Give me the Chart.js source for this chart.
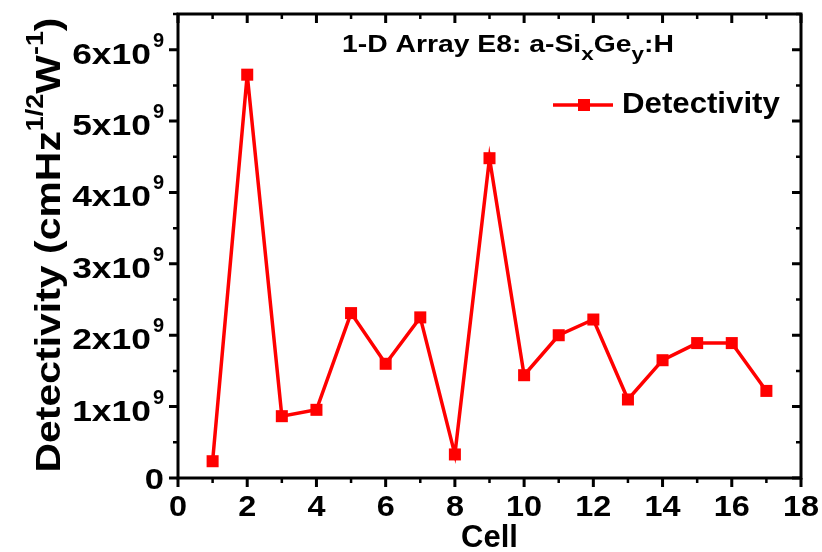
<!DOCTYPE html>
<html>
<head>
<meta charset="utf-8">
<script src="https://cdn.jsdelivr.net/npm/chart.js@4.4.0/dist/chart.umd.min.js"></script>
<style>
  html, body { margin: 0; padding: 0; background: #fff; }
  #wrap { width: 822px; height: 552px; }
</style>
</head>
<body>
<div id="wrap"><canvas id="chart" width="822" height="552"></canvas></div>
<script>
// cell number and detectivity (cmHz^1/2 W^-1)
const cells = [1, 2, 3, 4, 5, 6, 7, 8, 9, 10, 11, 12, 13, 14, 15, 16, 17];
const detectivity = [0.235e9, 5.65e9, 0.866e9, 0.955e9, 2.31e9, 1.60e9, 2.25e9, 0.33e9,
  4.48e9, 1.44e9, 2.00e9, 2.22e9, 1.10e9, 1.65e9, 1.89e9, 1.89e9, 1.22e9];

const xTicks = [0, 2, 4, 6, 8, 10, 12, 14, 16, 18];
const yTicks = [0, 1, 2, 3, 4, 5, 6]; // in units of 10^9

const FONT = '"Liberation Sans", Arial, sans-serif';
const RED = '#ff0000';

// draw text with a horizontal stretch, anchored by align
function stretchText(ctx, txt, x, y, size, sx, align) {
  ctx.save();
  ctx.font = 'bold ' + size + 'px ' + FONT;
  const w = ctx.measureText(txt).width * sx;
  let x0 = x;
  if (align === 'center') x0 = x - w / 2;
  else if (align === 'right') x0 = x - w;
  ctx.translate(x0, y);
  ctx.scale(sx, 1);
  ctx.textAlign = 'left';
  ctx.textBaseline = 'alphabetic';
  ctx.fillText(txt, 0, 0);
  ctx.restore();
  return w;
}

// runs of [text, size, dy], stretched by sx; returns total width
function runs(ctx, parts, x, y, sx, draw) {
  let cx = 0;
  ctx.save();
  ctx.translate(x, y);
  ctx.scale(sx, 1);
  ctx.textAlign = 'left';
  for (const [t, size, dy] of parts) {
    ctx.font = 'bold ' + size + 'px ' + FONT;
    if (draw) ctx.fillText(t, cx, dy);
    cx += ctx.measureText(t).width;
  }
  ctx.restore();
  return cx * sx;
}

const framePlugin = {
  id: 'frame',
  afterDatasetsDraw(chart) {
    const ctx = chart.ctx;
    const xs = chart.scales.x, ys = chart.scales.y;
    const L = xs.left, R = xs.right, T = ys.top, B = ys.bottom;
    ctx.save();
    ctx.strokeStyle = '#000';
    ctx.fillStyle = '#000';

    // axis frame
    ctx.lineWidth = 3;
    ctx.strokeRect(L, T, R - L, B - T);

    // x ticks: majors every 2, minors every 1
    for (let v = 0; v <= 18; v++) {
      const px = xs.getPixelForValue(v);
      const len = v % 2 === 0 ? 9 : 5;
      ctx.lineWidth = v % 2 === 0 ? 3 : 2.5;
      ctx.beginPath();
      ctx.moveTo(px, B); ctx.lineTo(px, B + len);
      ctx.moveTo(px, T); ctx.lineTo(px, T + len);
      ctx.stroke();
    }
    // y ticks: majors every 1e9, minors every 0.5e9
    for (let k = 0; k <= 13; k++) {
      const py = ys.getPixelForValue(k * 0.5e9);
      const len = k % 2 === 0 ? 9 : 5;
      ctx.lineWidth = k % 2 === 0 ? 3 : 2.5;
      ctx.beginPath();
      ctx.moveTo(L, py); ctx.lineTo(L - len, py);
      ctx.moveTo(R, py); ctx.lineTo(R - len, py);
      ctx.stroke();
    }

    // x tick labels
    for (const v of xTicks) {
      stretchText(ctx, String(v), xs.getPixelForValue(v), B + 38, 30, 1.08, 'center');
    }
    // y tick labels with superscript exponent
    for (const v of yTicks) {
      const py = ys.getPixelForValue(v * 1e9);
      if (v === 0) {
        stretchText(ctx, '0', L - 14, py + 11, 30, 1.15, 'right');
        continue;
      }
      ctx.font = 'bold 20px ' + FONT;
      const ew = ctx.measureText('9').width;
      ctx.textAlign = 'left';
      ctx.fillText('9', L - 14 - ew, py - 3);
      stretchText(ctx, v + 'x10', L - 16 - ew, py + 14, 30, 1.18, 'right');
    }

    // x axis title
    stretchText(ctx, 'Cell', (L + R) / 2, 547, 31, 1.0, 'center');

    // y axis title, rotated
    const yParts = [['Detectivity (cmHz', 35, 0], ['1/2', 23, -17], ['W', 35, 0],
      ['-1', 23, -17], [')', 35, 0]];
    ctx.save();
    ctx.translate(60, 245);
    ctx.rotate(-Math.PI / 2);
    const tw = runs(ctx, yParts, 0, 0, 1.17, false);
    runs(ctx, yParts, -tw / 2, 0, 1.17, true);
    ctx.restore();

    // title inside plot
    const tParts = [['1-D Array E8: a-Si', 24, 0], ['x', 19, 8], ['Ge', 24, 0],
      ['y', 19, 8], [':H', 24, 0]];
    runs(ctx, tParts, 342, 52, 1.18, true);

    // legend
    ctx.strokeStyle = RED;
    ctx.fillStyle = RED;
    ctx.lineWidth = 3.5;
    ctx.beginPath();
    ctx.moveTo(553, 105); ctx.lineTo(613, 105);
    ctx.stroke();
    ctx.fillRect(578, 99, 12, 12);
    ctx.fillStyle = '#000';
    stretchText(ctx, 'Detectivity', 622, 113, 30, 1.04, 'left');

    ctx.restore();
  }
};

new Chart(document.getElementById('chart').getContext('2d'), {
  type: 'line',
  data: {
    datasets: [{
      label: 'Detectivity',
      data: cells.map((c, i) => ({ x: c, y: detectivity[i] })),
      borderColor: RED,
      backgroundColor: RED,
      borderWidth: 3.5,
      pointStyle: 'rect',
      pointRadius: 8.5,
      pointBorderWidth: 0,
      tension: 0
    }]
  },
  options: {
    responsive: false,
    animation: false,
    events: [],
    layout: { padding: { left: 178, right: 21, top: 14, bottom: 74 } },
    plugins: { legend: { display: false }, tooltip: { enabled: false } },
    scales: {
      x: {
        type: 'linear', min: 0, max: 18,
        grid: { display: false, drawTicks: false },
        border: { display: false },
        ticks: { display: false }
      },
      y: {
        type: 'linear', min: 0, max: 6.5e9,
        grid: { display: false, drawTicks: false },
        border: { display: false },
        ticks: { display: false }
      }
    }
  },
  plugins: [framePlugin]
});
</script>
</body>
</html>
